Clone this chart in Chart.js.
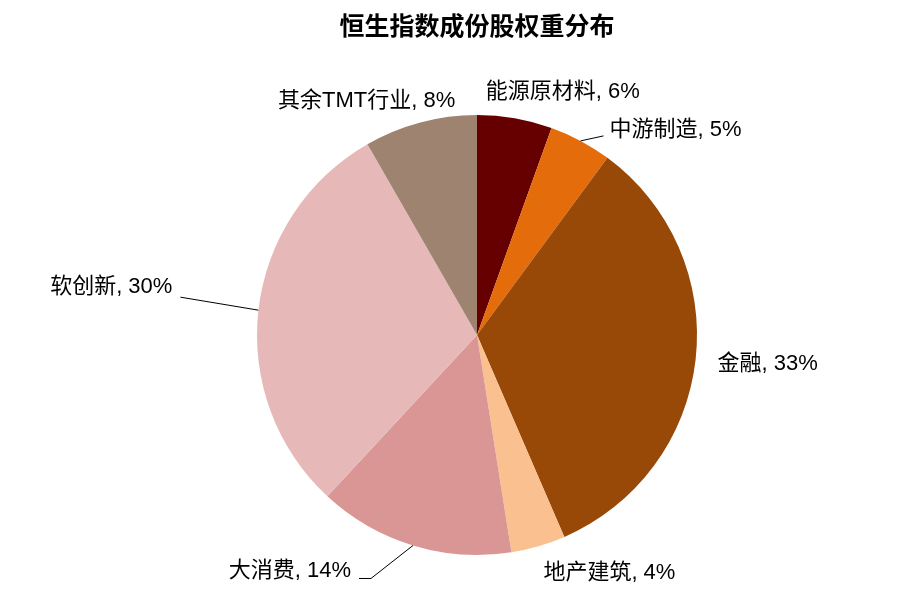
<!DOCTYPE html>
<html>
<head>
<meta charset="utf-8">
<script src="https://cdn.jsdelivr.net/npm/chart.js@4.4.1/dist/chart.umd.min.js"></script>
<style>
  html, body { margin: 0; padding: 0; background: #fff; }
  #wrap { width: 900px; height: 610px; }
</style>
</head>
<body>
<div id="wrap"><canvas id="pieChart" width="900" height="610"></canvas></div>
<script>
    // 数据
    const sectors = ['能源原材料', '中游制造', '金融', '地产建筑', '大消费', '软创新', '其余TMT行业'];
    const weights = [5.5, 4.6, 33.4, 4.0, 14.4, 29.8, 8.3];
    const sectorColors = ['#660000', '#E46C0A', '#984807', '#FAC090', '#D99694', '#E6B9B8', '#9E8470'];

    const fontFamily = '"Liberation Sans", "Noto Sans CJK SC", sans-serif';

    // 标签位置: 相对扇区外缘中点的偏移, 以及引导线
    const labelPlacement = [
        { dx: 48, dy: -26, align: 'center' },
        { dx: 29, dy: -11, align: 'left', line: [[0, 0], [23, -5]] },
        { dx: 22, dy: 4, align: 'left' },
        { dx: 5, dy: 27, align: 'left' },
        { dx: -62, dy: 25, align: 'right', line: [[0, 0], [-42, 33], [-54, 33]] },
        { dx: -86, dy: -23, align: 'right', line: [[0, 0], [-78, -13]] },
        { dx: 35, dy: -21, align: 'right' }
    ];

    const outsideLabels = {
        id: 'outsideLabels',
        afterDatasetsDraw(chart) {
            const ctx = chart.ctx;
            const arcs = chart.getDatasetMeta(0).data;
            ctx.save();
            ctx.font = '22px ' + fontFamily;
            ctx.fillStyle = '#000';
            ctx.strokeStyle = '#000';
            ctx.lineWidth = 1;
            ctx.textBaseline = 'middle';
            arcs.forEach((arc, i) => {
                const p = arc.getProps(['x', 'y', 'startAngle', 'endAngle', 'outerRadius'], true);
                const mid = (p.startAngle + p.endAngle) / 2;
                const ex = p.x + Math.cos(mid) * p.outerRadius;
                const ey = p.y + Math.sin(mid) * p.outerRadius;
                const lp = labelPlacement[i];
                if (lp.line) {
                    ctx.beginPath();
                    lp.line.forEach((pt, k) => {
                        if (k === 0) ctx.moveTo(ex + pt[0], ey + pt[1]);
                        else ctx.lineTo(ex + pt[0], ey + pt[1]);
                    });
                    ctx.stroke();
                }
                ctx.textAlign = lp.align;
                ctx.fillText(sectors[i] + ', ' + Math.round(weights[i]) + '%', ex + lp.dx, ey + lp.dy);
            });
            ctx.restore();
        }
    };

    new Chart(document.getElementById('pieChart'), {
        type: 'pie',
        data: {
            labels: sectors,
            datasets: [{
                data: weights,
                backgroundColor: sectorColors,
                borderWidth: 0,
                hoverOffset: 0,
                offset: 0
            }]
        },
        options: {
            responsive: false,
            animation: false,
            layout: {
                padding: { top: 0, bottom: 55, left: 54, right: 0 }
            },
            plugins: {
                legend: { display: false },
                tooltip: { enabled: false },
                title: {
                    display: true,
                    text: '恒生指数成份股权重分布',
                    color: '#000',
                    font: { family: fontFamily, size: 25, weight: 'bold', lineHeight: 1.2 },
                    padding: { top: 13, bottom: 72 }
                }
            }
        },
        plugins: [outsideLabels]
    });
</script>
</body>
</html>
